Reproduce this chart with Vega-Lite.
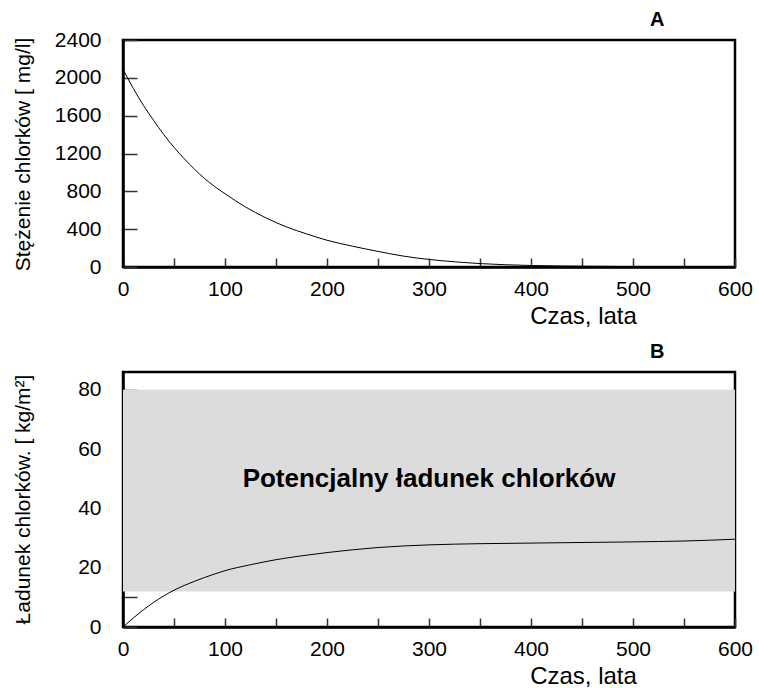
{
  "$schema": "https://vega.github.io/schema/vega-lite/v6.json",
  "padding": {"top": 8, "left": 10, "right": 10, "bottom": 0},
  "background": "white",
  "spacing": 10,
  "config": {
    "font": "Liberation Sans",
    "view": {"stroke": "black", "strokeWidth": 2.5},
    "axis": {
      "domainColor": "black",
      "domainWidth": 2.5,
      "tickColor": "#333333",
      "tickWidth": 1.5,
      "labelColor": "black",
      "labelFont": "Liberation Sans",
      "labelFontSize": 21,
      "titleFont": "Liberation Sans",
      "titleColor": "black",
      "titleFontWeight": "normal",
      "grid": false,
      "zindex": 1
    },
    "title": {"font": "Liberation Sans", "fontSize": 20, "fontWeight": "bold", "color": "black", "anchor": "end", "dx": -88}
  },
  "datasets": {
    "conc": [
      {"t": 0, "c": 2090}, {"t": 10, "c": 1890}, {"t": 20, "c": 1710}, {"t": 30, "c": 1550},
      {"t": 40, "c": 1400}, {"t": 50, "c": 1265}, {"t": 60, "c": 1145}, {"t": 70, "c": 1035},
      {"t": 80, "c": 935}, {"t": 90, "c": 850}, {"t": 100, "c": 775}, {"t": 120, "c": 635},
      {"t": 140, "c": 520}, {"t": 160, "c": 425}, {"t": 180, "c": 350}, {"t": 200, "c": 283},
      {"t": 225, "c": 220}, {"t": 250, "c": 165}, {"t": 275, "c": 115}, {"t": 300, "c": 80},
      {"t": 325, "c": 55}, {"t": 350, "c": 36}, {"t": 375, "c": 24}, {"t": 400, "c": 16},
      {"t": 450, "c": 8}, {"t": 500, "c": 4}, {"t": 550, "c": 2}, {"t": 600, "c": 1}
    ],
    "load": [
      {"t": 0, "l": 0}, {"t": 10, "l": 3.0}, {"t": 20, "l": 5.8}, {"t": 30, "l": 8.3},
      {"t": 40, "l": 10.5}, {"t": 50, "l": 12.4}, {"t": 60, "l": 14.0}, {"t": 70, "l": 15.4},
      {"t": 80, "l": 16.7}, {"t": 90, "l": 17.9}, {"t": 100, "l": 19.0}, {"t": 125, "l": 21.0},
      {"t": 150, "l": 22.7}, {"t": 175, "l": 24.0}, {"t": 200, "l": 25.1}, {"t": 250, "l": 26.8},
      {"t": 300, "l": 27.7}, {"t": 350, "l": 28.1}, {"t": 400, "l": 28.3}, {"t": 450, "l": 28.5},
      {"t": 500, "l": 28.7}, {"t": 550, "l": 29.0}, {"t": 600, "l": 29.6}
    ],
    "band": [{"x0": 0, "x1": 600, "y0": 12, "y1": 80}],
    "note": [{"t": 300, "v": 50, "label": "Potencjalny ładunek chlorków"}]
  },
  "vconcat": [
    {
      "title": {"text": "A", "offset": -1},
      "width": 612,
      "height": 227,
      "data": {"name": "conc"},
      "mark": {"type": "line", "color": "black", "strokeWidth": 1, "interpolate": "monotone"},
      "encoding": {
        "x": {
          "field": "t", "type": "quantitative",
          "scale": {"domain": [0, 600], "nice": false},
          "axis": {
            "title": "Czas, lata", "titleFontSize": 24, "titleX": 460, "titleY": 56,
            "titleAlign": "center", "titleBaseline": "alphabetic",
            "values": [0, 50, 100, 150, 200, 250, 300, 350, 400, 450, 500, 550, 600],
            "labelExpr": "datum.value % 100 === 0 ? datum.label : ''",
            "tickSize": -9, "labelPadding": 20, "labelFlush": false
          }
        },
        "y": {
          "field": "c", "type": "quantitative",
          "scale": {"domain": [0, 2400], "nice": false},
          "axis": {
            "title": "Stężenie chlorków  [ mg/l]", "titleFontSize": 21,
            "titleX": -90, "titleY": 114, "titleBaseline": "bottom", "titleAlign": "center", "titleAngle": -90,
            "values": [0, 400, 800, 1200, 1600, 2000, 2400], "format": "d",
            "tickSize": -14, "labelPadding": 36, "labelFlush": false
          }
        }
      }
    },
    {
      "title": {"text": "B", "offset": 9},
      "width": 612,
      "height": 255,
      "layer": [
        {
          "data": {"name": "band"},
          "mark": {"type": "rect", "color": "#dcdcdc"},
          "encoding": {
            "x": {"field": "x0", "type": "quantitative"},
            "x2": {"field": "x1"},
            "y": {"field": "y0", "type": "quantitative"},
            "y2": {"field": "y1"}
          }
        },
        {
          "data": {"name": "load"},
          "mark": {"type": "line", "color": "black", "strokeWidth": 1, "interpolate": "monotone"},
          "encoding": {
            "x": {"field": "t", "type": "quantitative"},
            "y": {"field": "l", "type": "quantitative"}
          }
        },
        {
          "data": {"name": "note"},
          "mark": {"type": "text", "font": "Liberation Sans", "fontSize": 26, "fontWeight": "bold", "color": "black", "align": "center", "baseline": "middle"},
          "encoding": {
            "x": {"field": "t", "type": "quantitative"},
            "y": {"field": "v", "type": "quantitative"},
            "text": {"field": "label"}
          }
        }
      ],
      "encoding": {
        "x": {
          "type": "quantitative",
          "scale": {"domain": [0, 600], "nice": false},
          "axis": {
            "title": "Czas, lata", "titleFontSize": 24, "titleX": 460, "titleY": 56,
            "titleAlign": "center", "titleBaseline": "alphabetic",
            "values": [0, 50, 100, 150, 200, 250, 300, 350, 400, 450, 500, 550, 600],
            "labelExpr": "datum.value % 100 === 0 ? datum.label : ''",
            "tickSize": -9, "labelPadding": 20, "labelFlush": false
          }
        },
        "y": {
          "type": "quantitative",
          "scale": {"domain": [0, 86], "nice": false},
          "axis": {
            "title": "Ładunek chlorków.  [ kg/m²]", "titleFontSize": 21,
            "titleX": -90, "titleY": 127, "titleBaseline": "bottom", "titleAlign": "center", "titleAngle": -90,
            "values": [0, 10, 20, 30, 40, 50, 60, 70, 80],
            "labelExpr": "datum.value % 20 === 0 ? datum.label : ''",
            "tickSize": -14, "labelPadding": 36, "labelFlush": false
          }
        }
      }
    }
  ]
}
